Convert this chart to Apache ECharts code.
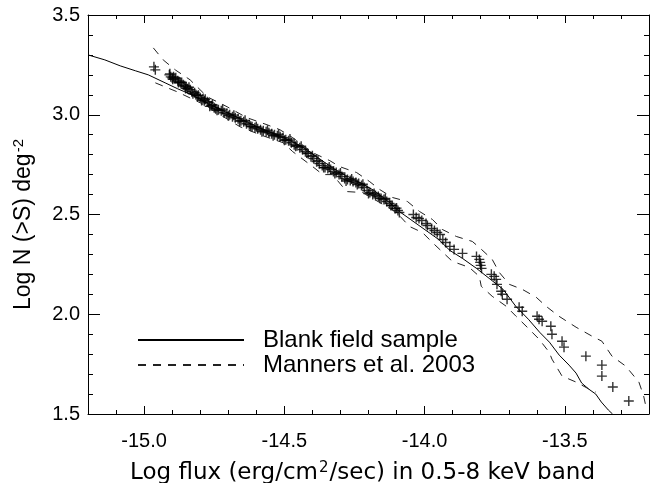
<!DOCTYPE html>
<html>
<head>
<meta charset="utf-8">
<script src="https://cdn.jsdelivr.net/npm/echarts@6/dist/echarts.min.js"></script>
<style>
  html, body { margin: 0; padding: 0; background: #fff; }
  #main { width: 655px; height: 483px; }
</style>
</head>
<body>
<div id="main"></div>
<script>
// x axis range and labelled ticks
var xMin = -15.2, xMax = -13.2;
var xMajor = [-15.0, -14.5, -14.0, -13.5];

// sources (crosses) : [log flux, log N(>S)]
var sources = [
    [-14.965, 3.24], [-14.96, 3.225],
    [-14.91, 3.20], [-14.905, 3.19], [-14.90, 3.185], [-14.895, 3.19], [-14.89, 3.18],
    [-14.88, 3.17], [-14.875, 3.165], [-14.87, 3.16], [-14.86, 3.15], [-14.855, 3.145],
    [-14.85, 3.14], [-14.845, 3.13], [-14.835, 3.125], [-14.83, 3.115], [-14.82, 3.11],
    [-14.815, 3.10], [-14.81, 3.095], [-14.80, 3.085], [-14.79, 3.08], [-14.785, 3.07],
    [-14.775, 3.065], [-14.77, 3.06], [-14.76, 3.045], [-14.75, 3.035], [-14.745, 3.03],
    [-14.735, 3.025], [-14.725, 3.02], [-14.715, 3.01], [-14.705, 3.005], [-14.695, 3.0],
    [-14.685, 2.99], [-14.675, 2.985], [-14.665, 2.98], [-14.655, 2.97], [-14.645, 2.965],
    [-14.635, 2.955], [-14.625, 2.95], [-14.615, 2.94], [-14.605, 2.935], [-14.595, 2.93],
    [-14.585, 2.925], [-14.575, 2.92], [-14.565, 2.915], [-14.555, 2.91], [-14.545, 2.905],
    [-14.535, 2.90], [-14.525, 2.895], [-14.515, 2.89], [-14.505, 2.885], [-14.495, 2.875],
    [-14.485, 2.87], [-14.475, 2.86], [-14.465, 2.85], [-14.455, 2.845], [-14.445, 2.835],
    [-14.435, 2.825], [-14.425, 2.815], [-14.415, 2.805], [-14.405, 2.79], [-14.395, 2.78],
    [-14.385, 2.765], [-14.375, 2.755], [-14.365, 2.745], [-14.355, 2.735], [-14.345, 2.73],
    [-14.335, 2.725], [-14.325, 2.715], [-14.315, 2.71], [-14.305, 2.70], [-14.295, 2.69],
    [-14.285, 2.68], [-14.275, 2.675], [-14.265, 2.67], [-14.255, 2.665], [-14.245, 2.66],
    [-14.235, 2.655], [-14.225, 2.645], [-14.215, 2.635], [-14.205, 2.62], [-14.195, 2.61],
    [-14.185, 2.60], [-14.175, 2.595], [-14.165, 2.59], [-14.155, 2.58], [-14.145, 2.575],
    [-14.135, 2.565], [-14.125, 2.555], [-14.115, 2.545], [-14.105, 2.53], [-14.095, 2.52],
    [-14.09, 2.51],
    [-14.908, 3.205], [-14.898, 3.178], [-14.887, 3.185], [-14.878, 3.162], [-14.866, 3.162],
    [-14.852, 3.132], [-14.84, 3.138], [-14.826, 3.105], [-14.806, 3.098], [-14.795, 3.072],
    [-14.782, 3.078], [-14.766, 3.042], [-14.756, 3.05], [-14.74, 3.022], [-14.72, 3.028],
    [-14.70, 2.995], [-14.68, 2.998], [-14.66, 2.968], [-14.64, 2.972], [-14.62, 2.942],
    [-14.60, 2.94], [-14.58, 2.915], [-14.56, 2.922], [-14.54, 2.895], [-14.52, 2.902],
    [-14.50, 2.872], [-14.48, 2.878], [-14.46, 2.842], [-14.44, 2.842], [-14.42, 2.808],
    [-14.40, 2.795], [-14.38, 2.77], [-14.36, 2.735], [-14.34, 2.738], [-14.32, 2.705],
    [-14.30, 2.708], [-14.28, 2.668], [-14.26, 2.678], [-14.24, 2.65], [-14.22, 2.652],
    [-14.20, 2.605], [-14.18, 2.605], [-14.16, 2.582], [-14.14, 2.58], [-14.12, 2.545],
    [-14.10, 2.532],
    [-14.04, 2.50], [-14.03, 2.485], [-14.02, 2.48], [-14.01, 2.47], [-13.995, 2.455],
    [-13.99, 2.445], [-13.975, 2.43], [-13.965, 2.42], [-13.955, 2.41], [-13.945, 2.40],
    [-13.935, 2.375], [-13.925, 2.36], [-13.91, 2.34], [-13.895, 2.325], [-13.865, 2.305],
    [-13.815, 2.29], [-13.805, 2.275], [-13.802, 2.26], [-13.80, 2.245], [-13.797, 2.23],
    [-13.762, 2.20], [-13.752, 2.19], [-13.745, 2.175], [-13.742, 2.15], [-13.727, 2.115],
    [-13.723, 2.10], [-13.706, 2.075], [-13.663, 2.035], [-13.652, 2.015], [-13.599, 1.99],
    [-13.592, 1.975], [-13.581, 1.965], [-13.55, 1.94], [-13.546, 1.90], [-13.51, 1.865],
    [-13.503, 1.835], [-13.425, 1.79], [-13.368, 1.745], [-13.368, 1.69], [-13.329, 1.635],
    [-13.272, 1.565]
];

// blank field sample (solid)
var blankField = [
    [-15.2, 3.30], [-15.14, 3.275], [-15.085, 3.245], [-15.03, 3.22], [-14.985, 3.20],
    [-14.925, 3.16], [-14.88, 3.13], [-14.83, 3.10], [-14.77, 3.055], [-14.71, 3.015],
    [-14.65, 2.975], [-14.59, 2.935], [-14.53, 2.90], [-14.47, 2.865], [-14.42, 2.825],
    [-14.38, 2.785], [-14.33, 2.735], [-14.28, 2.695], [-14.23, 2.66], [-14.18, 2.62],
    [-14.13, 2.565], [-14.09, 2.515], [-14.02, 2.445], [-13.95, 2.375], [-13.91, 2.32],
    [-13.865, 2.28], [-13.815, 2.23], [-13.77, 2.18], [-13.72, 2.125], [-13.675, 2.04],
    [-13.63, 1.975], [-13.59, 1.91], [-13.555, 1.86], [-13.52, 1.795], [-13.485, 1.745],
    [-13.46, 1.705], [-13.44, 1.655], [-13.415, 1.625], [-13.39, 1.60], [-13.37, 1.56],
    [-13.345, 1.52], [-13.33, 1.50]
];

// Manners et al. 2003 envelope (dashed)
var mannersUpper = [
    [-14.967, 3.335], [-14.932, 3.275], [-14.889, 3.225], [-14.836, 3.175], [-14.775, 3.09],
    [-14.704, 3.04], [-14.633, 2.985], [-14.562, 2.95], [-14.516, 2.925], [-14.47, 2.885],
    [-14.399, 2.81], [-14.338, 2.77], [-14.303, 2.74], [-14.242, 2.71], [-14.196, 2.665],
    [-14.16, 2.625], [-14.114, 2.585], [-14.061, 2.565], [-14.018, 2.515], [-13.972, 2.475],
    [-13.937, 2.425], [-13.887, 2.39], [-13.83, 2.365], [-13.805, 2.335], [-13.759, 2.275],
    [-13.734, 2.21], [-13.698, 2.15], [-13.652, 2.125], [-13.602, 2.085], [-13.567, 2.04],
    [-13.521, 1.99], [-13.46, 1.935], [-13.403, 1.89], [-13.368, 1.865], [-13.332, 1.79],
    [-13.283, 1.74], [-13.236, 1.66], [-13.219, 1.59], [-13.21, 1.53]
];
var mannersLower = [
    [-14.96, 3.16], [-14.882, 3.115], [-14.80, 3.06], [-14.729, 3.0], [-14.658, 2.94],
    [-14.587, 2.90], [-14.505, 2.86], [-14.47, 2.815], [-14.399, 2.74], [-14.363, 2.70],
    [-14.328, 2.70], [-14.278, 2.615], [-14.221, 2.61], [-14.16, 2.56], [-14.1, 2.51],
    [-14.054, 2.44], [-14.008, 2.41], [-13.965, 2.35], [-13.901, 2.265], [-13.841, 2.235],
    [-13.805, 2.19], [-13.798, 2.14], [-13.759, 2.09], [-13.709, 2.04], [-13.674, 1.99],
    [-13.627, 1.925], [-13.592, 1.875], [-13.556, 1.81], [-13.546, 1.775], [-13.51, 1.69],
    [-13.46, 1.66], [-13.414, 1.625], [-13.39, 1.61]
];

var chart = echarts.init(document.getElementById('main'));

var black = { color: '#000', width: 1 };

// x axis: minor ticks every 0.1, major (longer) ones through customValues
function xAxisPair(pos, labels) {
    return [
        {
            type: 'value', position: pos, min: xMin, max: xMax, interval: 0.1,
            axisLine: { show: true, onZero: false, lineStyle: black },
            axisTick: { show: true, inside: true, length: 4, lineStyle: black },
            axisLabel: labels ? {
                show: true, customValues: xMajor, margin: 17,
                formatter: function (v) { return v.toFixed(1); },
                color: '#000', fontSize: 20, fontFamily: 'Liberation Sans'
            } : { show: false },
            splitLine: { show: false },
            name: labels ? 'Log flux (erg/cm{sup|2}/sec) in 0.5-8 keV band' : '',
            nameLocation: 'middle',
            nameGap: 47,
            nameTextStyle: {
                color: '#000', fontSize: 23, fontFamily: 'DejaVu Sans',
                padding: [0, 12, 0, 0],
                rich: { sup: { fontSize: 15, fontFamily: 'DejaVu Sans', color: '#000', padding: [0, 1, 10, 1] } }
            }
        },
        {
            type: 'value', position: pos, min: xMin, max: xMax,
            axisLine: { show: false, onZero: false },
            axisTick: { show: true, inside: true, length: 8, customValues: xMajor, lineStyle: black },
            axisLabel: { show: false },
            splitLine: { show: false }
        }
    ];
}

function yAxis(pos, labels) {
    return {
        type: 'value', position: pos, min: 1.5, max: 3.5, interval: 0.5,
        axisLine: { show: true, onZero: false, lineStyle: black },
        axisTick: { show: true, inside: true, length: 12, lineStyle: black },
        minorTick: { show: true, splitNumber: 5, length: 5, lineStyle: black },
        axisLabel: labels ? {
            show: true, margin: 8,
            formatter: function (v) { return v.toFixed(1); },
            color: '#000', fontSize: 20, fontFamily: 'Liberation Sans'
        } : { show: false },
        splitLine: { show: false },
        name: labels ? 'Log N (>S) deg{sup|-2}' : '',
        nameLocation: 'middle',
        nameGap: 51,
        nameTextStyle: {
            color: '#000', fontSize: 23, fontFamily: 'Liberation Sans',
            padding: [0, 20, 0, 0],
            rich: { sup: { fontSize: 15, fontFamily: 'Liberation Sans', color: '#000', padding: [0, 0, 11, 1] } }
        }
    };
}

var option = {
    animation: false,
    backgroundColor: '#fff',
    grid: { left: 88, right: 6, top: 15, bottom: 69, outerBoundsMode: 'none', containLabel: false },
    legend: {
        data: ['Blank field sample', 'Manners et al. 2003'],
        orient: 'vertical',
        left: 132,
        top: 323,
        itemWidth: 106,
        itemHeight: 14,
        itemGap: 1,
        itemStyle: { color: 'rgba(0,0,0,0)', borderColor: 'rgba(0,0,0,0)', borderWidth: 0 },
        textStyle: { color: '#000', fontSize: 24, fontFamily: 'Liberation Sans', padding: [0, 0, 0, 14] },
        selectedMode: false
    },
    xAxis: xAxisPair('bottom', true).concat(xAxisPair('top', false)),
    yAxis: [yAxis('left', true), yAxis('right', false)],
    series: [
        {
            name: 'Blank field sample',
            type: 'line',
            data: blankField,
            symbol: 'none',
            lineStyle: { color: '#000', width: 1 },
            itemStyle: { color: '#000' }
        },
        {
            name: 'Manners et al. 2003',
            type: 'line',
            data: mannersUpper,
            symbol: 'none',
            lineStyle: { color: '#222', width: 1, type: [8, 7] },
            itemStyle: { color: '#222' }
        },
        {
            name: 'Manners et al. 2003',
            type: 'line',
            data: mannersLower,
            symbol: 'none',
            lineStyle: { color: '#222', width: 1, type: [8, 7] },
            itemStyle: { color: '#222' }
        },
        {
            name: 'sources',
            type: 'scatter',
            data: sources,
            symbol: 'path://M0,5L10,5M5,0L5,10',
            symbolSize: 10,
            itemStyle: { color: 'none', borderColor: '#000', borderWidth: 1.4 }
        }
    ]
};
chart.setOption(option);
</script>
</body>
</html>
